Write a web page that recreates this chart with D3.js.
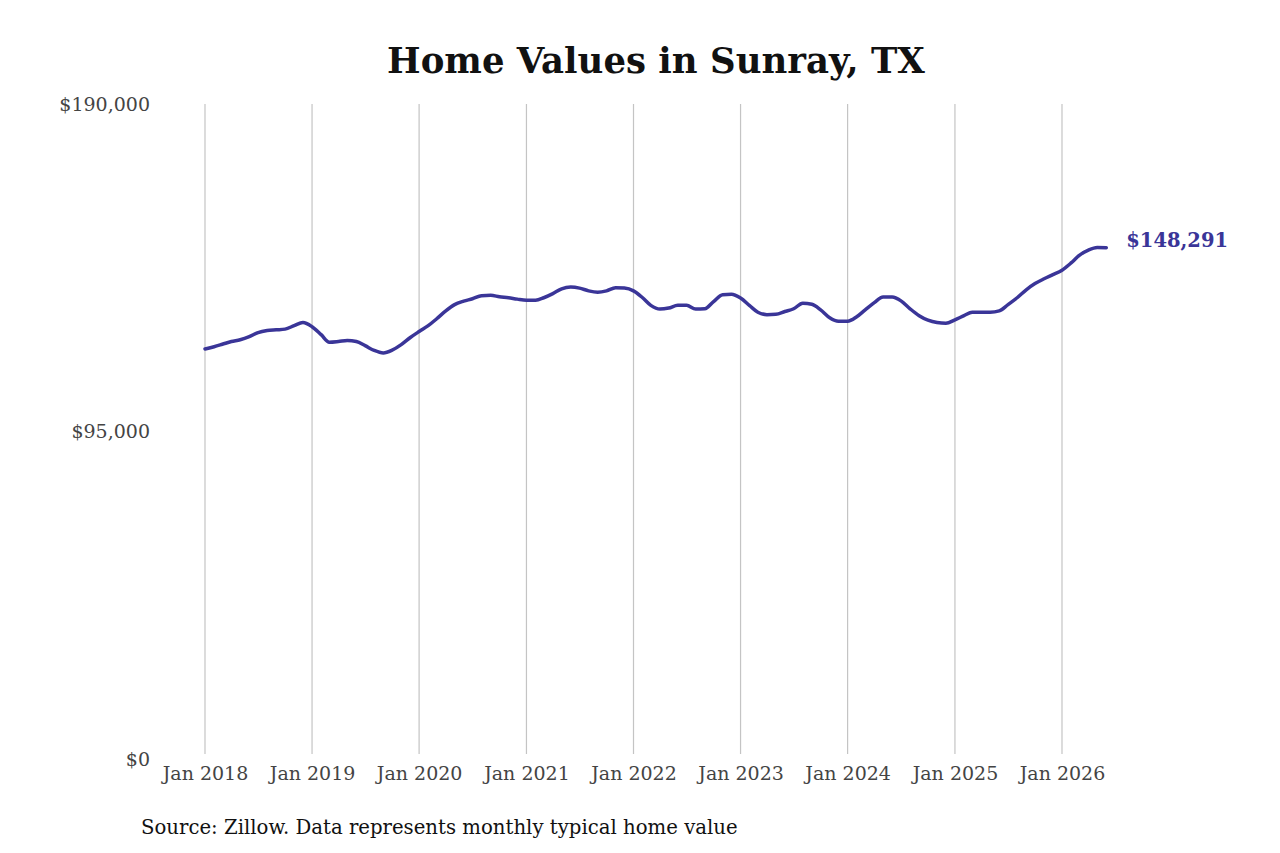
<!DOCTYPE html>
<html>
<head>
<meta charset="utf-8">
<script src="https://cdn.jsdelivr.net/npm/d3@7"></script>
<style>
  body { margin: 0; background: #fff; }
  svg { display: block; font-family: "DejaVu Serif", serif; }
</style>
</head>
<body>
<div id="chart"></div>
<script>
// monthly typical home value, Jan 2018 .. Jun 2026
const startMonth = new Date(2018, 0, 1);
const homeValues = [
  118950, 119600, 120300, 121100, 121600, 122500, 123700, 124300, 124500, 124700, 125700, 126600,
  125400, 123100, 120900, 121100, 121400, 121100, 119900, 118500, 117800, 118600, 120200, 122200,
  124000, 125700, 127700, 130000, 131800, 132800, 133500, 134400, 134500, 134100, 133800, 133400,
  133100, 133100, 133800, 135000, 136400, 136900, 136600, 135800, 135400, 135800, 136700, 136600,
  135800, 133800, 131600, 130500, 130800, 131600, 131600, 130500, 130600, 132700, 134700, 134800,
  133700, 131500, 129600, 128900, 129000, 129800, 130600, 132200, 131900, 130300, 128000, 127000,
  127000, 128300, 130300, 132400, 134000, 134000, 132900, 130600, 128600, 127300, 126600, 126400,
  127400, 128600, 129600, 129600, 129600, 130000, 131800, 133800, 136100, 137900, 139300, 140500,
  141800, 143900, 146100, 147600, 148350, 148291
];
const yTicks = [0, 95000, 190000];
const xTickYears = [2018, 2019, 2020, 2021, 2022, 2023, 2024, 2025, 2026];
const lastLabel = "$148,291";

const W = 1280, H = 853;
const margin = { top: 104, right: 174, bottom: 94, left: 205 };
const lineColor = "#3a3598";

const svg = d3.select("#chart").append("svg")
  .attr("width", W)
  .attr("height", H);

const points = homeValues.map((v, i) => ({
  date: d3.timeMonth.offset(startMonth, i),
  value: v
}));

const x = d3.scaleTime()
  .domain([new Date(2018, 0, 1), new Date(2026, 0, 1)])
  .range([margin.left, 1062]);

const y = d3.scaleLinear()
  .domain([0, 190000])
  .range([H - margin.bottom, margin.top]);

// title
svg.append("text")
  .attr("x", 656)
  .attr("y", 73)
  .attr("text-anchor", "middle")
  .attr("font-size", 35.5)
  .attr("font-weight", "bold")
  .attr("fill", "#111")
  .text("Home Values in Sunray, TX");

// vertical grid lines
svg.append("g")
  .selectAll("line")
  .data(xTickYears)
  .join("line")
  .attr("x1", d => x(new Date(d, 0, 1)))
  .attr("x2", d => x(new Date(d, 0, 1)))
  .attr("y1", y(190000))
  .attr("y2", y(0) - 5)
  .attr("stroke", "#c4c4c4")
  .attr("stroke-width", 1.2);

// x axis labels
const xAxis = d3.axisBottom(x)
  .tickValues(xTickYears.map(yr => new Date(yr, 0, 1)))
  .tickFormat(d3.timeFormat("Jan %Y"))
  .tickSize(0)
  .tickPadding(8);

svg.append("g")
  .attr("transform", `translate(0,${y(0)})`)
  .call(xAxis)
  .call(g => g.select(".domain").remove())
  .call(g => g.selectAll("text")
    .attr("font-family", "DejaVu Serif, serif")
    .attr("font-size", 19)
    .attr("fill", "#444"));

// y axis labels
const yAxis = d3.axisLeft(y)
  .tickValues(yTicks)
  .tickFormat(d => "$" + d3.format(",")(d))
  .tickSize(0)
  .tickPadding(55);

svg.append("g")
  .attr("transform", `translate(${margin.left},0)`)
  .call(yAxis)
  .call(g => g.select(".domain").remove())
  .call(g => g.selectAll("text")
    .attr("font-family", "DejaVu Serif, serif")
    .attr("font-size", 19)
    .attr("fill", "#444"));

// value line
const line = d3.line()
  .x(d => x(d.date))
  .y(d => y(d.value))
  .curve(d3.curveMonotoneX);

svg.append("path")
  .datum(points)
  .attr("d", line)
  .attr("fill", "none")
  .attr("stroke", lineColor)
  .attr("stroke-width", 3.5)
  .attr("stroke-linejoin", "round")
  .attr("stroke-linecap", "round");

// end label
const last = points[points.length - 1];
svg.append("text")
  .attr("x", x(last.date) + 20)
  .attr("y", y(last.value) - 1)
  .attr("font-size", 19.5)
  .attr("font-weight", "bold")
  .attr("fill", lineColor)
  .text(lastLabel);

// source note
svg.append("text")
  .attr("x", 141)
  .attr("y", 834)
  .attr("font-size", 19.7)
  .attr("fill", "#111")
  .text("Source: Zillow. Data represents monthly typical home value");
</script>
</body>
</html>
